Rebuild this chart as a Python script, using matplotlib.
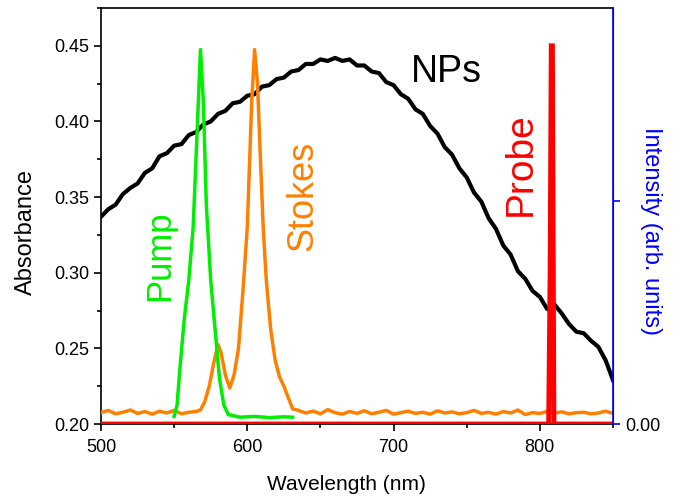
import matplotlib.pyplot as plt
from matplotlib.ticker import MultipleLocator

plt.rcParams['font.family'] = ['Liberation Sans', 'DejaVu Sans']

# NPs absorbance (left axis), read every 5 nm
np_wl = list(range(500, 851, 5))
np_abs = [0.337, 0.342, 0.345, 0.352, 0.356, 0.359, 0.366, 0.369, 0.377, 0.379,
          0.384, 0.385, 0.391, 0.393, 0.398, 0.400, 0.405, 0.407, 0.412, 0.413,
          0.417, 0.418, 0.423, 0.424, 0.428, 0.429, 0.433, 0.434, 0.438, 0.438,
          0.441, 0.440, 0.442, 0.440, 0.441, 0.437, 0.437, 0.433, 0.432, 0.426,
          0.424, 0.418, 0.415, 0.408, 0.405, 0.397, 0.392, 0.383, 0.378, 0.369,
          0.363, 0.353, 0.347, 0.336, 0.329, 0.318, 0.312, 0.301, 0.296, 0.288,
          0.284, 0.276, 0.279, 0.273, 0.266, 0.261, 0.260, 0.255, 0.251, 0.242,
          0.229]

# Stokes (orange), right axis
stokes_wl = ([500, 505, 510, 515, 520, 525, 530, 535, 540, 545, 550, 555, 560, 565,
              568, 571, 574, 577, 580, 582, 585, 588, 591, 594, 597, 600, 603, 605,
              607, 609, 611, 613, 616, 619, 622, 625, 628, 631]
             + list(range(635, 851, 5)))
stokes_int = [0.030, 0.036, 0.027, 0.031, 0.037, 0.028, 0.033, 0.026, 0.034, 0.029,
              0.036, 0.027, 0.031, 0.033,
              0.037, 0.060, 0.100, 0.160, 0.210, 0.190, 0.130, 0.095, 0.130, 0.200,
              0.350, 0.520, 0.850, 0.990, 0.900, 0.700, 0.510, 0.380, 0.250, 0.170,
              0.125, 0.100, 0.070, 0.040,
              0.036, 0.029, 0.034, 0.027, 0.038, 0.030, 0.026, 0.033, 0.028, 0.035,
              0.027, 0.031, 0.036, 0.026, 0.030, 0.034, 0.028, 0.031, 0.026, 0.035,
              0.029, 0.032, 0.027, 0.030, 0.036, 0.028, 0.031, 0.026, 0.033, 0.029,
              0.037, 0.025, 0.030, 0.028, 0.033, 0.029, 0.032, 0.027, 0.030, 0.031,
              0.027, 0.029, 0.034, 0.028]

# Pump (green), right axis
pump_wl = [550, 552, 554, 557, 560, 563, 566, 568, 570, 572, 575, 578, 581, 584, 587,
           595, 605, 615, 625, 631]
pump_int = [0.02, 0.05, 0.15, 0.28, 0.38, 0.52, 0.80, 0.99, 0.85, 0.58, 0.38, 0.25,
            0.12, 0.05, 0.025, 0.018, 0.020, 0.017, 0.019, 0.018]

# Probe (red), right axis
probe_wl = [500, 806, 807, 807.8, 808.6, 809.6, 850]
probe_int = [0, 0, 0.4, 1.0, 1.0, 0, 0]

fig = plt.figure(figsize=(6.78, 4.98), dpi=100)
ax = fig.add_axes([101 / 678, 1 - 424 / 498, 512 / 678, 416 / 498])
ax2 = ax.twinx()

ax.plot(np_wl, np_abs, color='black', linewidth=3)
ax2.plot(stokes_wl, stokes_int, color='#ff8000', linewidth=2.5)
ax2.plot(pump_wl, pump_int, color='#00ee00', linewidth=2.5)
ax2.plot(probe_wl, probe_int, color='red', linewidth=3.5, solid_capstyle='butt',
         solid_joinstyle='miter')

ax.set_xlim(500, 850)
ax.set_ylim(0.2, 0.475)
ax2.set_ylim(0, 1.1)

ax.xaxis.set_major_locator(MultipleLocator(100))
ax.xaxis.set_minor_locator(MultipleLocator(50))
ax.yaxis.set_major_locator(MultipleLocator(0.05))
ax.yaxis.set_minor_locator(MultipleLocator(0.025))
ax.yaxis.set_major_formatter(plt.FormatStrFormatter('%.2f'))
ax.tick_params(which='major', direction='out', length=5, width=1.2, labelsize=13)
ax.tick_params(which='minor', direction='out', length=3, width=1.2)
ax.tick_params(axis='x', pad=6)

ax2.set_yticks([0, 0.59])
ax2.set_yticklabels(['0.00', ''])
ax2.tick_params(axis='y', direction='out', length=5, width=1.2, colors='blue',
                labelcolor='black', labelsize=13)

for s in ['left', 'bottom', 'top']:
    ax.spines[s].set_linewidth(1.2)
ax2.spines['right'].set_color('blue')
ax2.spines['right'].set_linewidth(1.2)
for s in ['left', 'bottom', 'top']:
    ax2.spines[s].set_visible(False)

fig.text(26 / 678, 1 - 232 / 498, 'Absorbance', rotation=90, ha='center', va='center',
         fontsize=17)
fig.text(651 / 678, 1 - 231 / 498, 'Intensity (arb. units)', rotation=270, ha='center',
         va='center', fontsize=17, color='blue')
fig.text(346 / 678, 1 - 484 / 498, 'Wavelength (nm)', ha='center', va='center',
         fontsize=15)

ax.text(736, 0.4327, 'NPs', fontsize=27, ha='center', va='center')
ax.text(540, 0.311, 'Pump', fontsize=25, color='#00ee00', rotation=90, ha='center', va='center')
ax.text(638, 0.351, 'Stokes', fontsize=26, color='#ff8000', rotation=90, ha='center', va='center')
ax.text(787, 0.372, 'Probe', fontsize=28, color='red', rotation=90, ha='center', va='center')

fig.savefig('out.png', dpi=100)
